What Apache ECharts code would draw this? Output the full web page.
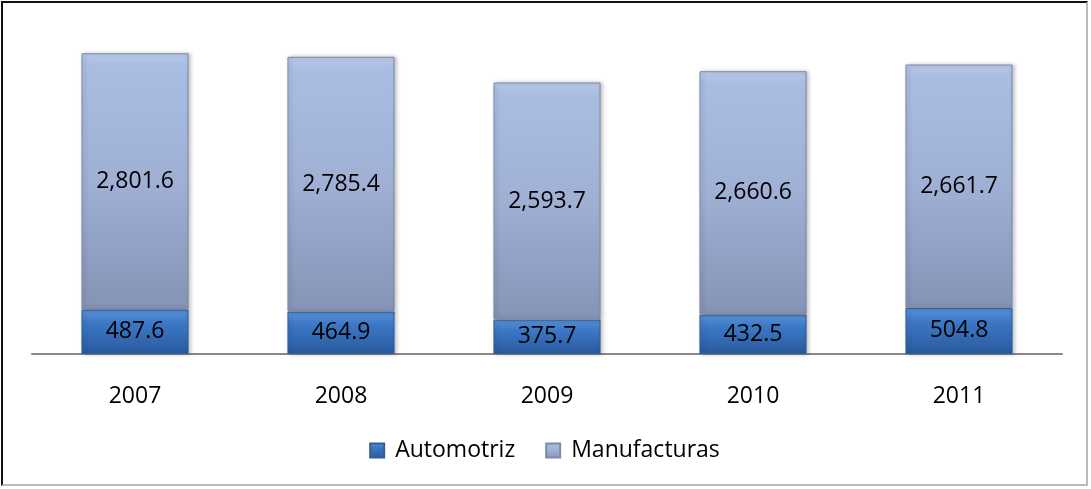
<!DOCTYPE html>
<html lang="es">
<head>
<meta charset="UTF-8">
<title>Automotriz y Manufacturas</title>
<style>
  html, body { margin: 0; padding: 0; background: #fff; }
  #main { position: absolute; left: 1px; top: 1px; width: 1087px; height: 485px;
          border: 2px solid #111; border-right-color: #bbb; border-bottom-color: #bbb; box-sizing: border-box; }
</style>
</head>
<body>
<div id="main"></div>
<script src="https://cdn.jsdelivr.net/npm/echarts@6/dist/echarts.min.js"></script>
<script>
var years = ['2007', '2008', '2009', '2010', '2011'];
var automotriz = [487.6, 464.9, 375.7, 432.5, 504.8];
var manufacturas = [2801.6, 2785.4, 2593.7, 2660.6, 2661.7];

var chart = echarts.init(document.getElementById('main'));

function fmt(v) {
  return v.toLocaleString('en-US', { minimumFractionDigits: 1, maximumFractionDigits: 1 });
}

var font = '"Open Sans", sans-serif';

chart.setOption({
  animation: false,
  grid: { left: 29, right: 24, top: 31, bottom: 130 },
  legend: {
    bottom: 17,
    left: 'center',
    itemWidth: 14,
    itemHeight: 14,
    itemGap: 30,
    icon: 'rect',
    textStyle: { fontFamily: font, fontSize: 23, color: '#000', padding: [0, 0, 0, 6] },
    data: ['Automotriz', 'Manufacturas']
  },
  xAxis: {
    type: 'category',
    data: years,
    axisLine: { lineStyle: { color: '#888', width: 2 } },
    axisTick: { show: false },
    axisLabel: { fontFamily: font, fontSize: 23, color: '#000', margin: 31 }
  },
  yAxis: {
    type: 'value',
    min: 0,
    max: 3500,
    show: false,
    splitLine: { show: false }
  },
  series: [
    {
      name: 'Automotriz',
      type: 'bar',
      stack: 'total',
      barWidth: '52%',
      data: automotriz,
      itemStyle: {
        color: new echarts.graphic.LinearGradient(0, 0, 0, 1, [
          { offset: 0, color: '#5b93d8' },
          { offset: 0.3, color: '#3c78c6' },
          { offset: 1, color: '#2a5a9e' }
        ]),
        borderColor: '#2f5f9a',
        borderWidth: 1,
        shadowColor: 'rgba(0,0,0,0.25)',
        shadowBlur: 4,
        shadowOffsetX: 2
      },
      label: {
        show: true,
        position: 'inside',
        fontFamily: font,
        fontSize: 23,
        color: '#000',
        formatter: function (p) { return fmt(p.value); }
      }
    },
    {
      name: 'Manufacturas',
      type: 'bar',
      stack: 'total',
      data: manufacturas,
      itemStyle: {
        color: new echarts.graphic.LinearGradient(0, 0, 0, 1, [
          { offset: 0, color: '#b9c9e8' },
          { offset: 0.05, color: '#a9bde3' },
          { offset: 0.5, color: '#9fb0d4' },
          { offset: 1, color: '#8593b6' }
        ]),
        borderColor: '#7d8aa8',
        borderWidth: 1,
        shadowColor: 'rgba(0,0,0,0.25)',
        shadowBlur: 4,
        shadowOffsetX: 2
      },
      label: {
        show: true,
        position: 'inside',
        fontFamily: font,
        fontSize: 23,
        color: '#000',
        formatter: function (p) { return fmt(p.value); }
      }
    }
  ]
});
</script>
</body>
</html>
